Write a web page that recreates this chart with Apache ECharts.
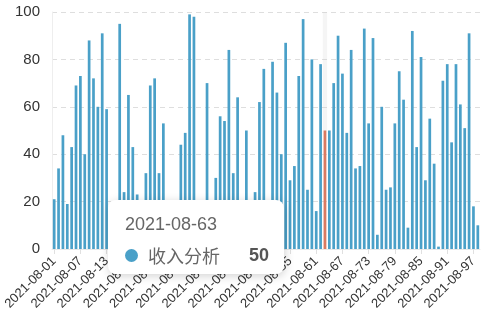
<!DOCTYPE html>
<html>
<head>
<meta charset="utf-8">
<script src="https://cdn.jsdelivr.net/npm/echarts@6/dist/echarts.min.js"></script>
<style>
html,body{margin:0;padding:0;background:#fff;}
#chart{width:493px;height:330px;}
</style>
</head>
<body>
<div id="chart"></div>
<script>
var seriesName = '收入分析';
var categories = [
'2021-08-01','2021-08-02','2021-08-03','2021-08-04','2021-08-05','2021-08-06','2021-08-07','2021-08-08','2021-08-09','2021-08-10',
'2021-08-11','2021-08-12','2021-08-13','2021-08-14','2021-08-15','2021-08-16','2021-08-17','2021-08-18','2021-08-19','2021-08-20',
'2021-08-21','2021-08-22','2021-08-23','2021-08-24','2021-08-25','2021-08-26','2021-08-27','2021-08-28','2021-08-29','2021-08-30',
'2021-08-31','2021-08-32','2021-08-33','2021-08-34','2021-08-35','2021-08-36','2021-08-37','2021-08-38','2021-08-39','2021-08-40',
'2021-08-41','2021-08-42','2021-08-43','2021-08-44','2021-08-45','2021-08-46','2021-08-47','2021-08-48','2021-08-49','2021-08-50',
'2021-08-51','2021-08-52','2021-08-53','2021-08-54','2021-08-55','2021-08-56','2021-08-57','2021-08-58','2021-08-59','2021-08-60',
'2021-08-61','2021-08-62','2021-08-63','2021-08-64','2021-08-65','2021-08-66','2021-08-67','2021-08-68','2021-08-69','2021-08-70',
'2021-08-71','2021-08-72','2021-08-73','2021-08-74','2021-08-75','2021-08-76','2021-08-77','2021-08-78','2021-08-79','2021-08-80',
'2021-08-81','2021-08-82','2021-08-83','2021-08-84','2021-08-85','2021-08-86','2021-08-87','2021-08-88','2021-08-89','2021-08-90',
'2021-08-91','2021-08-92','2021-08-93','2021-08-94','2021-08-95','2021-08-96','2021-08-97','2021-08-98'
];
var values = [
21,34,48,19,43,69,73,40,88,72,
60,91,59,7,12,95,24,65,43,23,
9,32,69,72,32,53,15,5,18,44,
49,99,98,11,3,70,14,30,56,54,
84,32,64,8,50,19,24,62,76,6,
79,66,40,87,29,35,73,97,25,80,
16,78,50,50,70,90,74,49,84,34,
35,93,53,89,6,60,25,26,53,75,
63,9,92,43,81,29,55,36,1,71,
78,45,78,61,51,91,18,10
];
var yTicks = [0,20,40,60,80,100];
var activeIndex = 62;

var latin = '"Liberation Sans", Arial, "Noto Sans CJK SC", sans-serif';
var chart = echarts.init(document.getElementById('chart'), null, {renderer:'canvas'});
var option = {
  animation: false,
  grid: {left: 52, right: 13, top: 12, bottom: 81},
  tooltip: {
    trigger: 'axis',
    alwaysShowContent: true,
    triggerOn: 'none',
    axisPointer: {type: 'shadow', shadowStyle: {color: 'rgba(200,200,200,0.18)'}},
    position: function(){ return [108, 200]; },
    backgroundColor: '#fff',
    borderColor: '#fff',
    borderWidth: 0,
    padding: [14, 15, 9, 17],
    extraCssText: 'border-radius:8px;box-shadow:1px 2px 10px rgba(0,0,0,0.18);',
    formatter: function(params){
      var p = params[0];
      return '<div style="font-family:' + latin.replace(/"/g, "'") + ';color:#666;">' +
        '<div style="font-size:18px;line-height:20px;">' + p.name + '</div>' +
        '<div style="margin-top:11px;display:flex;align-items:center;width:144px;line-height:20px;">' +
        '<span style="display:inline-block;width:13px;height:13px;border-radius:50%;background:#4aa0c8;margin-right:10px;"></span>' +
        '<span style="font-size:18px;font-family:\'Noto Sans CJK SC\',sans-serif;">' + p.seriesName + '</span>' +
        '<span style="margin-left:auto;font-size:18px;font-weight:bold;color:#555;">' + p.value + '</span>' +
        '</div></div>';
    }
  },
  xAxis: {
    type: 'category',
    data: categories,
    axisLine: {show: true, lineStyle: {color: '#e8e8e8'}},
    axisTick: {show: true, alignWithLabel: true, interval: 5, length: 5, lineStyle: {color: '#e0e0e0'}},
    axisLabel: {interval: 5, rotate: 45, margin: 10, fontSize: 13, color: '#333', fontFamily: latin}
  },
  yAxis: {
    type: 'value',
    min: yTicks[0],
    max: yTicks[yTicks.length - 1],
    interval: 20,
    axisLine: {show: true, lineStyle: {color: '#eeeeee'}},
    axisTick: {show: false},
    axisLabel: {fontSize: 15, color: '#333', margin: 12, fontFamily: latin},
    splitLine: {show: true, lineStyle: {color: '#dedede', type: [5, 4]}}
  },
  series: [{
    name: seriesName,
    type: 'bar',
    data: values,
    barWidth: '62%',
    itemStyle: {color: '#4aa0c8'},
    emphasis: {itemStyle: {color: '#e0694b'}}
  }]
};
chart.setOption(option);
chart.dispatchAction({type: 'showTip', seriesIndex: 0, dataIndex: activeIndex});
chart.dispatchAction({type: 'highlight', seriesIndex: 0, dataIndex: activeIndex});
</script>
</body>
</html>
